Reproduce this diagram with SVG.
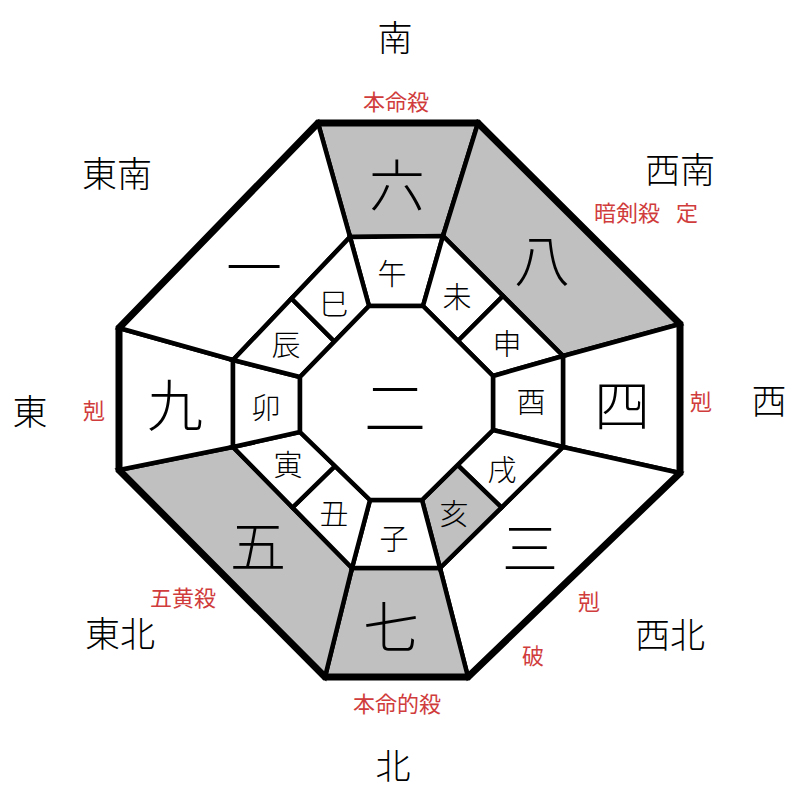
<svg xmlns="http://www.w3.org/2000/svg" width="800" height="800" viewBox="0 0 800 800">
<style>
.cell{stroke:#000;stroke-width:4.5;stroke-linejoin:miter;fill:#fff}
.g{fill:#c0c0c0}
.outer{fill:none;stroke:#000;stroke-width:7;stroke-linejoin:miter}
text{font-family:"Noto Sans CJK JP","Noto Sans CJK SC",sans-serif;text-anchor:middle;dominant-baseline:central}
.num{font-size:56px;font-weight:300;fill:#000}
.br{font-size:29px;font-weight:300;fill:#000}
.dir{font-size:35px;font-weight:300;fill:#000}
.red{font-size:22px;fill:#d03c3c}
</style>
<rect width="800" height="800" fill="#fff"/>
<g id="sectors">
<g id="s-6"><polygon class="cell g" points="318,123 478,123 443,236 350,237"/><text class="num" x="397" y="181">六</text></g>
<g id="s-8"><polygon class="cell g" points="478,123 680,324 563,356 443,236"/><text class="num" x="542" y="256">八</text></g>
<g id="s-4"><polygon class="cell" points="680,324 680,473 563,447 563,356"/><text class="num" x="622" y="401">四</text></g>
<g id="s-3"><polygon class="cell" points="680,473 468,677 440,568 563,447"/><text class="num" x="530" y="544">三</text></g>
<g id="s-7"><polygon class="cell g" points="468,677 325,677 352,568 440,568"/><text class="num" x="391" y="623">七</text></g>
<g id="s-5"><polygon class="cell g" points="325,677 119,470 233,447 352,568"/><text class="num" x="258" y="542">五</text></g>
<g id="s-9"><polygon class="cell" points="119,470 119,328 233,360 233,447"/><text class="num" x="175" y="401">九</text></g>
<g id="s-1"><polygon class="cell" points="119,328 318,123 350,237 233,360"/><text class="num" x="254" y="263">一</text></g>
</g>
<g id="branches">
<g id="b-uma"><polygon class="cell" points="350,237 443,236 423,306 369,306"/><text class="br" x="392" y="272">午</text></g>
<g id="b-hitsuji"><polygon class="cell" points="443,236 503,296 458,341 423,306"/><text class="br" x="457" y="295">未</text></g>
<g id="b-saru"><polygon class="cell" points="503,296 563,356 493,376 458,341"/><text class="br" x="507" y="342">申</text></g>
<g id="b-tori"><polygon class="cell" points="563,356 563,447 493,430 493,376"/><text class="br" x="531" y="400">酉</text></g>
<g id="b-inu"><polygon class="cell" points="563,447 501.5,507.5 457.5,465 493,430"/><text class="br" x="502" y="468">戌</text></g>
<g id="b-i"><polygon class="cell g" points="501.5,507.5 440,568 422,500 457.5,465"/><text class="br" x="454" y="512">亥</text></g>
<g id="b-ne"><polygon class="cell" points="440,568 352,568 370,500 422,500"/><text class="br" x="394" y="537">子</text></g>
<g id="b-ushi"><polygon class="cell" points="352,568 292.5,507.5 335,466 370,500"/><text class="br" x="334" y="512">丑</text></g>
<g id="b-tora"><polygon class="cell" points="292.5,507.5 233,447 300,432 335,466"/><text class="br" x="288" y="463">寅</text></g>
<g id="b-u"><polygon class="cell" points="233,447 233,360 300,377 300,432"/><text class="br" x="266" y="406">卯</text></g>
<g id="b-tatsu"><polygon class="cell" points="233,360 291.5,298.5 334.5,341.5 300,377"/><text class="br" x="286" y="343">辰</text></g>
<g id="b-mi"><polygon class="cell" points="291.5,298.5 350,237 369,306 334.5,341.5"/><text class="br" x="334" y="302">巳</text></g>
</g>
<g id="center"><polygon class="cell" points="369,306 423,306 493,376 493,430 422,500 370,500 300,432 300,377"/><text x="395" y="404" style="font-size:62px;font-weight:300">二</text></g>
<g id="connectors"><polygon class="outer" points="318,123 478,123 680,324 680,473 468,677 325,677 119,470 119,328"/></g>
<g id="directions">
<text class="dir" x="395" y="35">南</text>
<text class="dir" x="117" y="171">東南</text>
<text class="dir" x="680" y="167">西南</text>
<text class="dir" x="30" y="409">東</text>
<text class="dir" x="769" y="398">西</text>
<text class="dir" x="120" y="631">東北</text>
<text class="dir" x="670" y="632">西北</text>
<text class="dir" x="393" y="763">北</text>
</g>
<g id="marks">
<text class="red" x="396" y="100">本命殺</text>
<text class="red" x="627" y="211">暗剣殺</text>
<text class="red" x="687" y="211">定</text>
<text class="red" x="94" y="409">剋</text>
<text class="red" x="701" y="400">剋</text>
<text class="red" x="183" y="596">五黄殺</text>
<text class="red" x="589" y="600">剋</text>
<text class="red" x="533" y="654">破</text>
<text class="red" x="397" y="702">本命的殺</text>
</g>
</svg>
